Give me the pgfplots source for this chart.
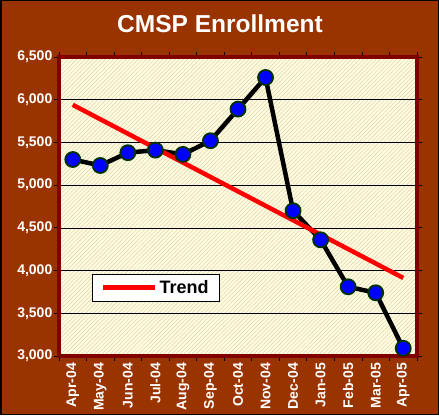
\documentclass[border=0pt]{standalone}
\usepackage{fontspec}
\setmainfont{Liberation Sans}
\usepackage{pgfplots}
\pgfplotsset{compat=1.18}
\usetikzlibrary{patterns.meta}
\definecolor{rust}{HTML}{993300}
\definecolor{frame}{HTML}{800000}
\definecolor{paleyel}{HTML}{FFFFE0}
\definecolor{hatch}{HTML}{E4D2B8}
\definecolor{mkedge}{HTML}{003300}

\begin{document}
\begin{tikzpicture}[x=1pt,y=1pt]
\useasboundingbox (0,0) rectangle (439,415);
\fill[rust] (0,0) rectangle (439,415);
\draw[black,line width=1.5pt] (0.75,0.75) rectangle (438.25,414.25);
\node[white,font=\bfseries\fontsize{24.5}{28}\selectfont] at (220,391) {CMSP Enrollment};
\begin{axis}[at={(59pt,59pt)},anchor=south west,
  scale only axis,width=358pt,height=299pt,
  xmin=-0.5,xmax=12.5,ymin=3000,ymax=6500,
  xtick={-0.5,0.5,...,12.5},x tick label as interval,
  xticklabels={Apr-04,May-04,Jun-04,Jul-04,Aug-04,Sep-04,Oct-04,Nov-04,Dec-04,Jan-05,Feb-05,Mar-05,Apr-05},
  ytick={3000,3500,...,6500},
  /pgf/number format/.cd,1000 sep={,},assume math mode=true,/pgfplots/.cd,
  ymajorgrids,major grid style={black,line width=0.6pt},
  axis background/.style={fill=paleyel,postaction={pattern={Lines[angle=45,distance=2.9pt,line width=0.6pt]},pattern color=hatch}},
  axis line style={frame,line width=3.5pt},
  tick style={black,line width=0.8pt},tick align=outside,major tick length=5pt,
  ticklabel style={white,font=\bfseries\fontsize{14}{16}\selectfont},
  yticklabel style={inner sep=1.5pt},
  xticklabel style={rotate=90,anchor=east,inner sep=2pt},
  clip=false,
  legend style={at={(0.092,0.274)},anchor=north west,draw=black,fill=white,
    font=\bfseries\fontsize{18}{20}\selectfont,inner xsep=9pt,inner ysep=4pt,
    nodes={inner sep=2pt}},
  legend image code/.code={\draw[#1] (0pt,0pt) -- (52pt,0pt);}]
\addplot[black,line width=4.5pt,mark=*,mark size=7.5pt,
  mark options={fill=blue,draw=mkedge,line width=1.8pt},forget plot] coordinates {
 (0,5300)(1,5230)(2,5380)(3,5410)(4,5360)(5,5520)(6,5890)(7,6260)
 (8,4700)(9,4360)(10,3810)(11,3740)(12,3090)};
\addplot[red,line width=4.5pt] coordinates {(0,5940)(12,3914)};
\addlegendentry{Trend}
\end{axis}
\end{tikzpicture}
\end{document}
